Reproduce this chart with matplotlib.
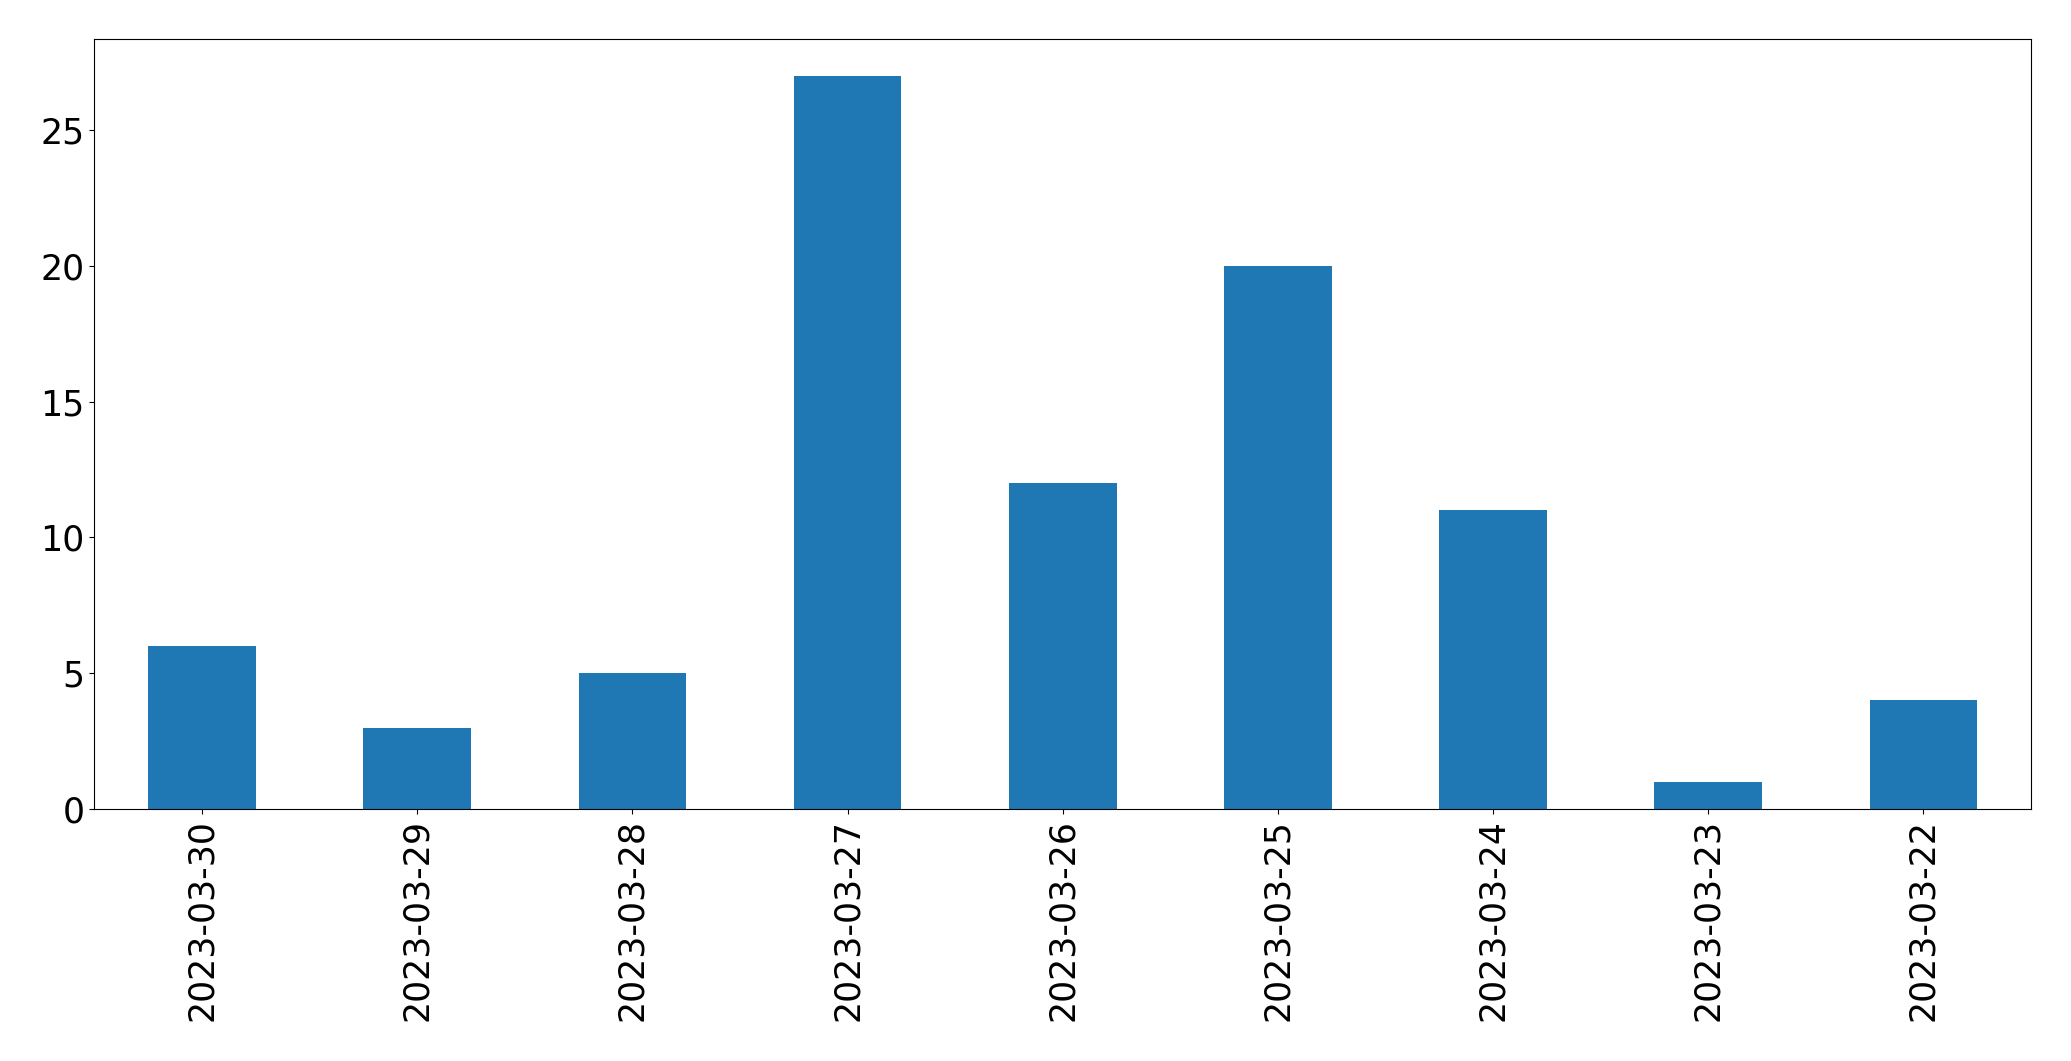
import matplotlib
matplotlib.use("Agg")
import matplotlib.pyplot as plt
import pandas as pd

dates = ["2023-03-30", "2023-03-29", "2023-03-28", "2023-03-27", "2023-03-26",
         "2023-03-25", "2023-03-24", "2023-03-23", "2023-03-22"]
counts = [6, 3, 5, 27, 12, 20, 11, 1, 4]

s = pd.Series(counts, index=dates)

fig = plt.figure(figsize=(20.71, 10.61), dpi=100)
ax = fig.add_axes([0.0456, 0.2375, 0.9807 - 0.0456, 0.963 - 0.2375])
s.plot(kind="bar", ax=ax, color="#1f77b4")
ax.tick_params(axis="both", labelsize=25)
fig.savefig("out.png", dpi=100)
